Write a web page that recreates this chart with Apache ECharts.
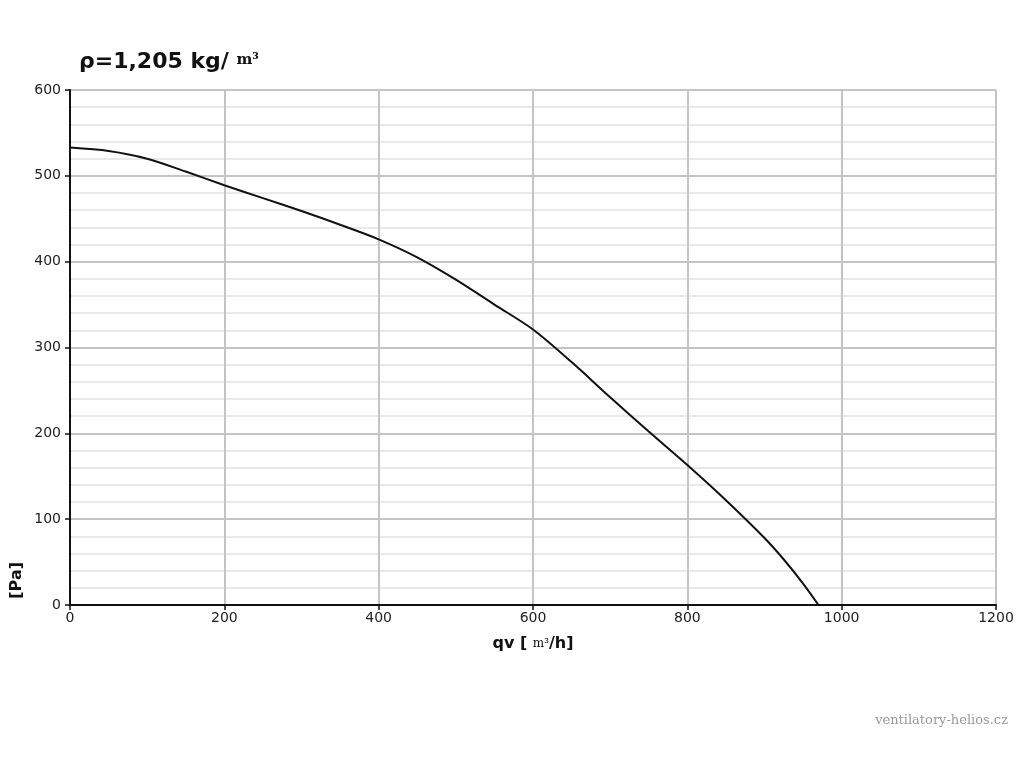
<!DOCTYPE html>
<html>
<head>
<meta charset="utf-8">
<script src="https://cdn.jsdelivr.net/npm/echarts@6/dist/echarts.min.js"></script>
<style>html,body{margin:0;padding:0;background:#fff;}#c{width:1024px;height:768px;}</style>
</head>
<body>
<div id="c"></div>
<script>
const flow = [0, 50, 100, 150, 200, 250, 300, 350, 400, 450, 500, 550, 600, 650, 700, 750, 800, 850, 900, 925, 950, 970];
const pressure = [533, 529, 520, 505, 489, 474, 459, 443, 426, 405, 379, 350, 321, 283, 242, 202, 163, 122, 78, 53, 25, 0];
const xTicks = [0, 200, 400, 600, 800, 1000, 1200];
const yTicks = [0, 100, 200, 300, 400, 500, 600];

const chart = echarts.init(document.getElementById('c'));
const pts = flow.map((q, i) => [q, pressure[i]]);
const lblFont = { fontFamily: 'DejaVu Sans', fontSize: 14, color: '#222', formatter: v => String(v) };
chart.setOption({
  backgroundColor: '#fff',
  animation: false,
  title: {
    left: 74, top: 46,
    text: '{a|ρ=1,205 kg/ }{b|m³}',
    textStyle: {
      rich: {
        a: { fontFamily: 'DejaVu Sans', fontWeight: 'bold', fontSize: 22, color: '#111' },
        b: { fontFamily: 'DejaVu Serif', fontSize: 15, color: '#111', padding: [0, 0, 4, 0] }
      }
    }
  },
  grid: { left: 70, right: 28, top: 90, bottom: 163, containLabel: false },
  xAxis: {
    type: 'value', min: xTicks[0], max: xTicks[xTicks.length - 1], interval: 200,
    axisLine: { show: true, onZero: false, lineStyle: { color: '#111', width: 2 } },
    axisTick: { show: true, length: 5, lineStyle: { color: '#111', width: 1.5 } },
    axisLabel: Object.assign({ margin: 6 }, lblFont),
    splitLine: { show: true, lineStyle: { color: '#c4c4c4', width: 2 } },
    name: '{a|qv [ }{b|m³}{a|/h]}',
    nameLocation: 'middle', nameGap: 31,
    nameTextStyle: {
      rich: {
        a: { fontFamily: 'DejaVu Sans', fontWeight: 'bold', fontSize: 16, color: '#111' },
        b: { fontFamily: 'DejaVu Serif', fontSize: 12, color: '#111' }
      }
    }
  },
  yAxis: {
    type: 'value', min: yTicks[0], max: yTicks[yTicks.length - 1], interval: 100,
    axisLine: { show: true, onZero: false, lineStyle: { color: '#111', width: 2 } },
    axisTick: { show: true, length: 5, lineStyle: { color: '#111', width: 1.5 } },
    axisLabel: Object.assign({ margin: 9 }, lblFont),
    splitLine: { show: true, lineStyle: { color: '#c4c4c4', width: 2 } },
    minorTick: { show: false, splitNumber: 5 },
    minorSplitLine: { show: true, lineStyle: { color: '#e2e2e2', width: 1.5 } }
  },
  graphic: [
    { type: 'text', left: 9, top: 562, rotation: Math.PI / 2,
      style: { text: '[Pa]', fontFamily: 'DejaVu Sans', fontWeight: 'bold', fontSize: 16, fill: '#111' } },
    { type: 'text', right: 16, top: 714,
      style: { text: 'ventilatory-helios.cz', fontFamily: 'DejaVu Serif', fontSize: 13, fill: '#999' } }
  ],
  series: [{
    type: 'line', data: pts, smooth: 0.3, symbol: 'none',
    lineStyle: { color: '#111', width: 2 }
  }]
});
</script>
</body>
</html>
